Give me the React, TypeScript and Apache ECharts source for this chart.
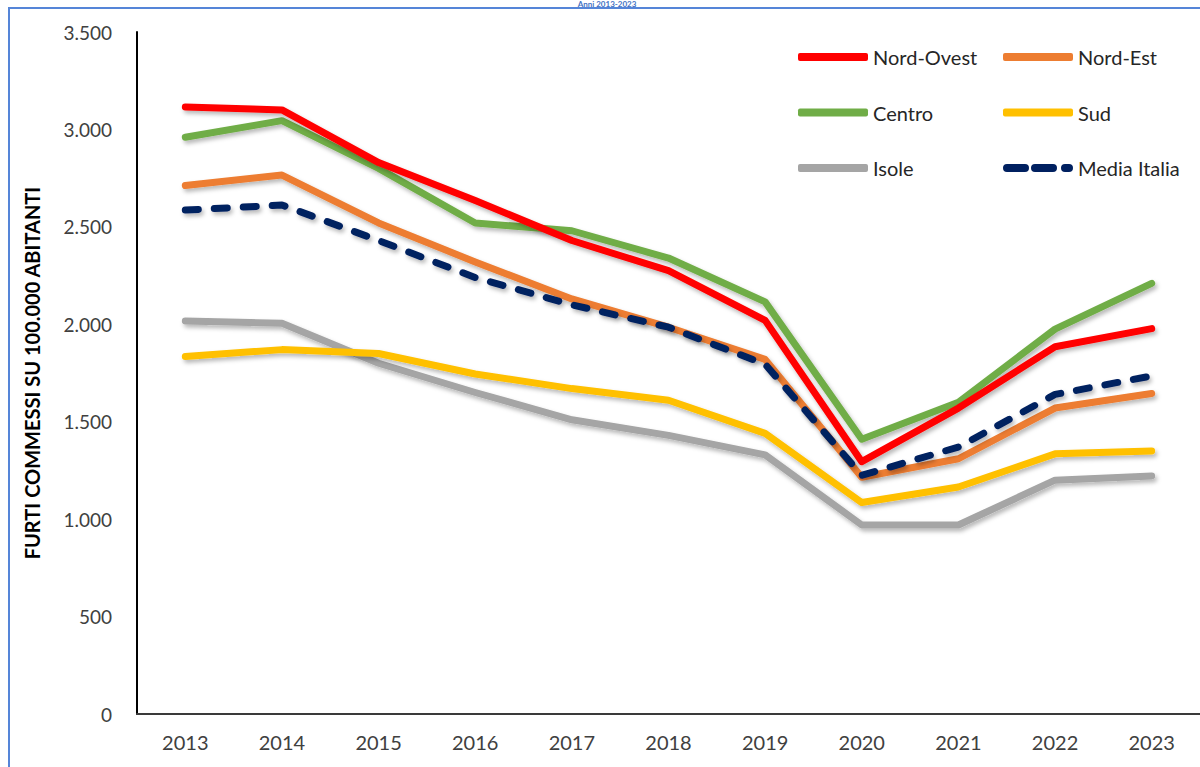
import React, { useEffect, useRef } from "react";
import * as echarts from "echarts";

const years = ["2013", "2014", "2015", "2016", "2017", "2018", "2019", "2020", "2021", "2022", "2023"];
const nordOvest = [3115, 3100, 2830, 2635, 2430, 2275, 2020, 1295, 1570, 1885, 1978];
const nordEst = [2712, 2766, 2520, 2320, 2130, 1985, 1820, 1215, 1310, 1570, 1645];
const centro = [2960, 3045, 2800, 2520, 2480, 2340, 2115, 1410, 1600, 1975, 2210];
const sud = [1835, 1870, 1850, 1745, 1670, 1610, 1440, 1085, 1165, 1335, 1350];
const isole = [2017, 2005, 1800, 1650, 1510, 1430, 1330, 970, 970, 1200, 1222];
const mediaItalia = [2586, 2612, 2430, 2240, 2100, 1985, 1795, 1225, 1370, 1640, 1735];
const yTicks = { min: 0, max: 3500, interval: 500 };
const yTitle = "FURTI COMMESSI SU 100.000 ABITANTI";
const topTitle = "Anni 2013-2023";

const dashIcon =
  "path://M4,0 H22 A4,4 0 0 1 22,8 H4 A4,4 0 0 1 4,0 Z M32,0 H50 A4,4 0 0 1 50,8 H32 A4,4 0 0 1 32,0 Z M62,0 H66 A4,4 0 0 1 66,8 H62 A4,4 0 0 1 62,0 Z";

export default function App() {
  const ref = useRef<HTMLDivElement>(null);
  useEffect(() => {
    document.body.style.margin = "0";
    if (!ref.current) return;
    const chart = echarts.init(ref.current, null, { renderer: "svg" });
    const shadow = {
      shadowColor: "rgba(0,0,0,0.28)",
      shadowBlur: 4,
      shadowOffsetX: 2,
      shadowOffsetY: 3,
    };
    const mk = (name: string, data: number[], color: string, dashed = false) => ({
      name,
      type: "line",
      data,
      symbol: "none",
      color,
      itemStyle: { color },
      lineStyle: {
        color,
        width: 7,
        cap: "round",
        join: "round",
        type: dashed ? [13, 16] : "solid",
        ...shadow,
      },
      z: dashed ? 3 : 2,
    });
    const fmt = (v: number) => (v === 0 ? "0" : v.toLocaleString("de-DE"));
    const legendText = { fontSize: 20, lineHeight: 20, color: "#262626", fontFamily: "Lato" };
    const legendBase = {
      orient: "vertical",
      top: 47,
      padding: 0,
      itemWidth: 70,
      itemHeight: 8,
      itemGap: 35.5,
      textStyle: legendText,
      itemStyle: { shadowBlur: 0, shadowOffsetX: 0, shadowOffsetY: 0 },
    };
    chart.setOption({
      animation: false,
      backgroundColor: "#ffffff",
      textStyle: { fontFamily: "Lato" },
      grid: { left: 137, top: 32, height: 682, width: 1070, containLabel: false },
      graphic: [
        {
          type: "rect",
          shape: { x: 9, y: 8, width: 1300, height: 900 },
          style: { fill: "none", stroke: "#5585D8", lineWidth: 2 },
          silent: true,
        },
        {
          type: "text",
          x: 607,
          y: 0,
          style: {
            text: topTitle,
            font: "bold 8px Lato",
            fill: "#4472C4",
            textAlign: "center",
            textVerticalAlign: "top",
          },
        },
      ],
      legend: [
        {
          ...legendBase,
          left: 798,
          data: [
            { name: "Nord-Ovest", icon: "roundRect" },
            { name: "Centro", icon: "roundRect" },
            { name: "Isole", icon: "roundRect" },
          ],
        },
        {
          ...legendBase,
          left: 1003,
          data: [
            { name: "Nord-Est", icon: "roundRect" },
            { name: "Sud", icon: "roundRect" },
            { name: "Media Italia", icon: dashIcon },
          ],
        },
      ],
      xAxis: {
        type: "category",
        data: years,
        boundaryGap: true,
        axisLine: { lineStyle: { color: "#3a3a3a", width: 2 } },
        axisTick: { show: false },
        axisLabel: { fontSize: 20, color: "#404040", margin: 18, fontFamily: "Lato" },
      },
      yAxis: {
        type: "value",
        min: yTicks.min,
        max: yTicks.max,
        interval: yTicks.interval,
        name: yTitle,
        nameLocation: "middle",
        nameRotate: 90,
        nameGap: 95,
        nameTextStyle: { fontSize: 20, fontWeight: "bold", color: "#000000", fontFamily: "Lato" },
        axisLine: { show: true, lineStyle: { color: "#000000", width: 2 } },
        axisTick: { show: false },
        splitLine: { show: false },
        axisLabel: { fontSize: 19, color: "#404040", margin: 25, formatter: fmt, fontFamily: "Lato" },
      },
      series: [
        mk("Isole", isole, "#A5A5A5"),
        mk("Sud", sud, "#FFC000"),
        mk("Nord-Est", nordEst, "#ED7D31"),
        mk("Centro", centro, "#70AD47"),
        mk("Nord-Ovest", nordOvest, "#FF0000"),
        mk("Media Italia", mediaItalia, "#002060", true),
      ],
    });
    return () => chart.dispose();
  }, []);
  return <div ref={ref} style={{ width: 1200, height: 767 }} />;
}
